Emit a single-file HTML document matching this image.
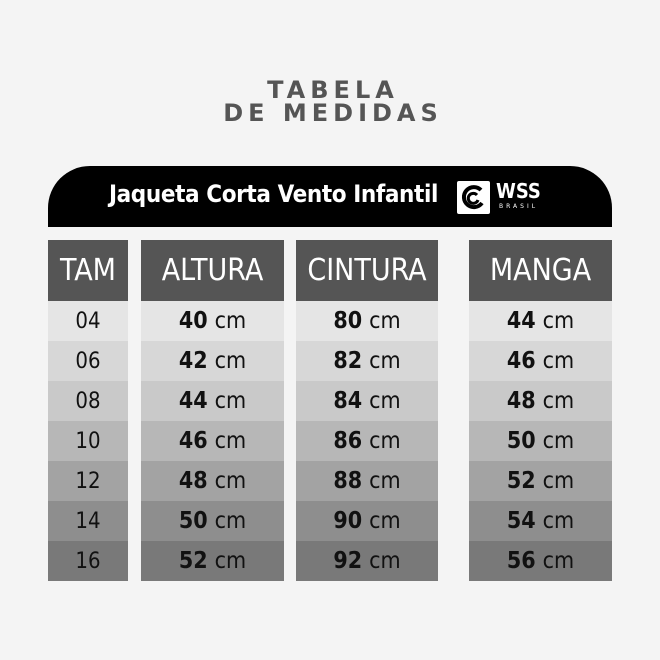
<!DOCTYPE html>
<html><head><meta charset="utf-8"><style>
body{margin:0;width:660px;height:660px;background:#f4f4f4;position:relative;overflow:hidden;font-family:"DejaVu Sans","Liberation Sans",sans-serif}
.t{position:absolute;left:0;width:660px;text-align:center;font-weight:bold;color:#555;font-size:24px;letter-spacing:5px;line-height:24px}
.bar{position:absolute;left:48px;top:166px;width:564px;height:61px;background:#000;border-radius:42px 42px 0 0}
.bar span{position:absolute;left:61px;top:14px;color:#fff;font-family:"DejaVu Sans Condensed","DejaVu Sans",sans-serif;font-weight:bold;font-size:24px;letter-spacing:-0.4px}
.logo{position:absolute;left:457px;top:181px;width:33px;height:33px;background:#fff;border-radius:2px}
.wss{position:absolute;left:496px;top:181px;color:#fff;font-weight:bold;font-size:20px;line-height:20px;font-family:"DejaVu Sans Condensed",sans-serif}
.br{position:absolute;left:499px;top:203px;color:#fff;font-size:6px;letter-spacing:3px}
.col{position:absolute;top:240px}
.c{height:40px;display:flex;align-items:center;justify-content:center;font-size:23px;color:#111;font-family:"DejaVu Sans Condensed","DejaVu Sans",sans-serif}
.c b{margin-right:7px}
.n{font-size:22px}
.h{height:61px;background:#555;color:#fff;font-size:30px;font-weight:normal;font-family:"DejaVu Sans Condensed","DejaVu Sans",sans-serif}
.r0{background:#e5e5e5}.r1{background:#d7d7d7}.r2{background:#c9c9c9}.r3{background:#b7b7b7}.r4{background:#a3a3a3}.r5{background:#8e8e8e}.r6{background:#797979}
</style></head><body>
<div class="t" style="top:78px;left:3px">TABELA</div>
<div class="t" style="top:101px;left:3px">DE MEDIDAS</div>
<div class="bar"><span>Jaqueta Corta Vento Infantil</span></div>
<div class="logo"><svg width="33" height="33"><path d="M24 9 A10 10 0 1 0 25 22" stroke="#000" stroke-width="4" fill="none"/><path d="M20 14 A5 5 0 1 0 21 19" stroke="#000" stroke-width="3" fill="none"/></svg></div>
<div class="wss">WSS</div><div class="br">BRASIL</div>
<div class="col" style="left:48px;width:80px">
<div class="c h">TAM</div><div class="c n r0">04</div><div class="c n r1">06</div><div class="c n r2">08</div><div class="c n r3">10</div><div class="c n r4">12</div><div class="c n r5">14</div><div class="c n r6">16</div></div>
<div class="col" style="left:141px;width:143px">
<div class="c h">ALTURA</div><div class="c r0"><b>40</b>cm</div><div class="c r1"><b>42</b>cm</div><div class="c r2"><b>44</b>cm</div><div class="c r3"><b>46</b>cm</div><div class="c r4"><b>48</b>cm</div><div class="c r5"><b>50</b>cm</div><div class="c r6"><b>52</b>cm</div></div>
<div class="col" style="left:296px;width:142px">
<div class="c h">CINTURA</div><div class="c r0"><b>80</b>cm</div><div class="c r1"><b>82</b>cm</div><div class="c r2"><b>84</b>cm</div><div class="c r3"><b>86</b>cm</div><div class="c r4"><b>88</b>cm</div><div class="c r5"><b>90</b>cm</div><div class="c r6"><b>92</b>cm</div></div>
<div class="col" style="left:469px;width:143px">
<div class="c h">MANGA</div><div class="c r0"><b>44</b>cm</div><div class="c r1"><b>46</b>cm</div><div class="c r2"><b>48</b>cm</div><div class="c r3"><b>50</b>cm</div><div class="c r4"><b>52</b>cm</div><div class="c r5"><b>54</b>cm</div><div class="c r6"><b>56</b>cm</div></div>
</body></html>
